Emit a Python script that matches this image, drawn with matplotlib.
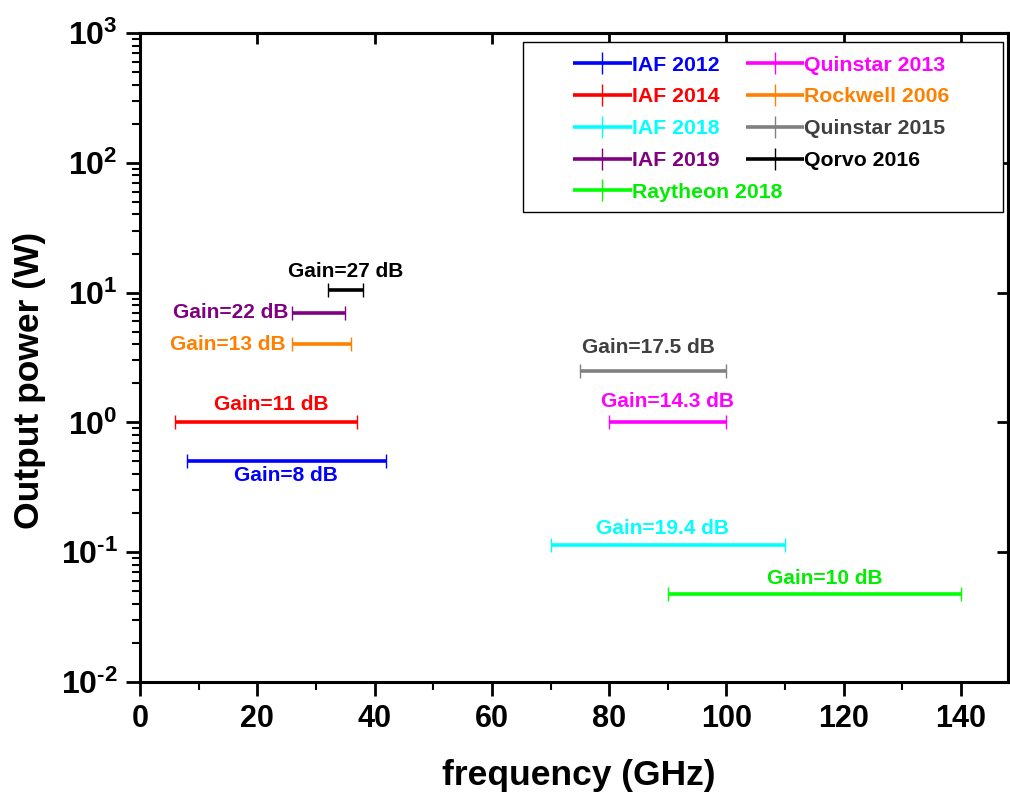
import math
import matplotlib
matplotlib.use("Agg")
import matplotlib.pyplot as plt
from matplotlib.patches import Rectangle
from matplotlib.ticker import FixedLocator, FuncFormatter, LogLocator, MultipleLocator, NullFormatter

plt.rcParams['font.family'] = ['Liberation Sans', 'DejaVu Sans']
plt.rcParams['font.weight'] = 'bold'
plt.rcParams['mathtext.fontset'] = 'custom'
plt.rcParams['mathtext.bf'] = 'Liberation Sans:bold'
plt.rcParams['mathtext.rm'] = 'Liberation Sans:bold'

# ---- data ----
labels = ["IAF 2012", "IAF 2014", "IAF 2018", "IAF 2019", "Raytheon 2018",
          "Quinstar 2013", "Rockwell 2006", "Quinstar 2015", "Qorvo 2016"]
f_start = [8, 6, 70, 26, 90, 80, 26, 75, 32]
f_stop = [42, 37, 110, 35, 140, 100, 36, 100, 38]
power_w = [0.5, 1.0, 0.113, 7.0, 0.048, 1.0, 4.0, 2.5, 10.5]
gains = ["Gain=8 dB", "Gain=11 dB", "Gain=19.4 dB", "Gain=22 dB", "Gain=10 dB",
         "Gain=14.3 dB", "Gain=13 dB", "Gain=17.5 dB", "Gain=27 dB"]
line_colors = ["#0000FF", "#FF0000", "#00FFFF", "#800080", "#00FF00",
               "#FF00FF", "#FF8000", "#808080", "#000000"]
text_colors = ["#0000FF", "#FF0000", "#00FFFF", "#800080", "#00EE00",
               "#FF00FF", "#FF8000", "#404040", "#000000"]
# annotation anchors (x in GHz, y in W) and alignment
gain_x = [24.9, 22.4, 89.1, 25.3, 116.8, 90.0, 24.8, 86.7, 35.0]
gain_y = [0.39, 1.38, 0.152, 7.0, 0.0628, 1.45, 4.0, 3.78, 14.6]
gain_ha = ["center", "center", "center", "right", "center",
           "center", "right", "center", "center"]

fig = plt.figure(figsize=(10.1, 8), dpi=100)
ax = fig.add_axes([140 / 1010, (800 - 682) / 800, 868 / 1010, 649 / 800])

handles = []
for i in range(len(labels)):
    h, = ax.plot([f_start[i], f_stop[i]], [power_w[i], power_w[i]],
                 color=line_colors[i], lw=2.6, marker='|', markersize=10,
                 markeredgewidth=1.0, solid_capstyle='butt', label=labels[i])
    handles.append(h)
    ax.text(gain_x[i], gain_y[i], gains[i], color=text_colors[i],
            fontsize=15, fontweight='bold', ha=gain_ha[i], va='center')

ax.set_yscale('log')
ax.set_xlim(0, 148)
ax.set_ylim(1e-2, 1e3)

ax.xaxis.set_major_locator(MultipleLocator(20))
ax.xaxis.set_minor_locator(MultipleLocator(10))
ax.yaxis.set_major_locator(LogLocator(base=10, numticks=10))
ax.yaxis.set_minor_locator(LogLocator(base=10, subs=range(2, 10), numticks=20))
ax.yaxis.set_minor_formatter(NullFormatter())


def yfmt(v, pos):
    e = int(round(math.log10(v)))
    s = str(abs(e))
    if e < 0:
        s = '\u2010' + s
    return r'$\mathbf{10^{%s}}$' % s


ax.yaxis.set_major_formatter(FuncFormatter(yfmt))

ax.tick_params(axis='both', which='major', direction='out', length=10, width=2,
               pad=6)
ax.tick_params(axis='x', which='major', labelsize=22)
ax.tick_params(axis='y', which='major', labelsize=23)
ax.tick_params(axis='both', which='minor', direction='out', length=6, width=1.5)
for lab in ax.get_xticklabels() + ax.get_yticklabels():
    lab.set_fontweight('bold')

for s in ax.spines.values():
    s.set_linewidth(2.2)

# secondary ticks on top and right (inward)
axt = ax.secondary_xaxis('top')
axt.xaxis.set_major_locator(MultipleLocator(20))
axt.tick_params(direction='in', length=8, width=2, labeltop=False)
axt.spines['top'].set_linewidth(2.2)
axr = ax.secondary_yaxis('right')
axr.yaxis.set_major_locator(LogLocator(base=10, numticks=10))
axr.yaxis.set_minor_locator(FixedLocator([]))
axr.tick_params(direction='in', length=8, width=2, labelright=False)
axr.spines['right'].set_linewidth(2.2)

ax.set_xlabel("frequency (GHz)", fontsize=25.5, fontweight='bold')
ax.set_ylabel("Output power (W)", fontsize=25.5, fontweight='bold')
ax.xaxis.set_label_coords(0.505, -0.118)
ax.yaxis.set_label_coords(-0.108, 0.465)

# legend box
rect = Rectangle((0.441, 0.724), 0.553, 0.262, transform=ax.transAxes,
                 facecolor='white', edgecolor='black', lw=1.0, zorder=4)
ax.add_patch(rect)
leg = ax.legend(handles=handles, loc='upper left', bbox_to_anchor=(0.499, 0.965),
                ncol=2, frameon=False, numpoints=1, markerscale=1.6,
                handlelength=2.75, handletextpad=0.0, labelspacing=0.60,
                columnspacing=-1.7, borderpad=0, borderaxespad=0,
                prop={'weight': 'bold', 'size': 15.3})
leg.set_zorder(5)
for t, c in zip(leg.get_texts(), text_colors):
    t.set_color(c)

fig.savefig("out.png", dpi=100)
